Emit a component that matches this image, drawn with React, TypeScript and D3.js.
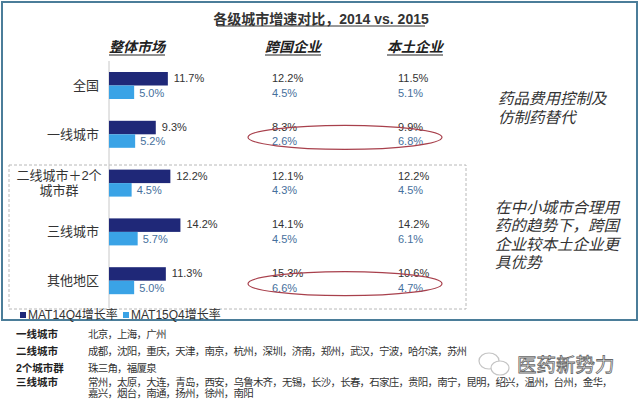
import React from 'react';
import * as d3 from 'd3';

// chart data
const categories = ['全国', '一线城市', '二线城市＋2个城市群', '三线城市', '其他地区'];
const categoryLines = [['全国'], ['一线城市'], ['二线城市＋2个', '城市群'], ['三线城市'], ['其他地区']];
const overall14 = [11.7, 9.3, 12.2, 14.2, 11.3];
const overall15 = [5.0, 5.2, 4.5, 5.7, 5.0];
const mnc14 = [12.2, 8.3, 12.1, 14.1, 15.3];
const mnc15 = [4.5, 2.6, 4.3, 4.5, 6.6];
const local14 = [11.5, 9.9, 12.2, 14.2, 10.6];
const local15 = [5.1, 6.8, 4.5, 6.1, 4.7];
const columnTitles = ['整体市场', '跨国企业', '本土企业'];
const legendLabels = ['MAT14Q4增长率', 'MAT15Q4增长率'];
const noteTop = ['药品费用控制及', '仿制药替代'];
const noteBottom = ['在中小城市合理用', '药的趋势下，跨国', '企业较本土企业更', '具优势'];
const cityGroups = ['一线城市', '二线城市', '2个城市群', '三线城市'];
const cityLists = [
  ['北京，上海，广州'],
  ['成都，沈阳，重庆，天津，南京，杭州，深圳，济南，郑州，武汉，宁波，哈尔滨，苏州'],
  ['珠三角，福厦泉'],
  ['常州，太原，大连，青岛，西安，乌鲁木齐，无锡，长沙，长春，石家庄，贵阳，南宁，昆明，绍兴，温州，台州，金华，',
   '嘉兴，烟台，南通，扬州，徐州，南阳'],
];

const W = 640;
const H = 399;
const FONT = '"Liberation Sans", Arial, "Noto Sans CJK SC", sans-serif';
const DARK = '#1f2878';
const LIGHT = '#3aa3e6';
const LIGHT_TEXT = '#466f9c';

const x = d3.scaleLinear().domain([0, 20]).range([109, 209.6]);
const y = d3.scaleBand<string>().domain(categories).range([72, 316]);
const barH = 13.5;

const headerX = [137, 293, 415];
const valueColX = [272, 398];

export default function App() {
  const listY = [334, 351, 368, 382, 393];
  let li = 0;
  return (
    <div style={{ position: 'fixed', left: 0, top: 0 }}>
      <svg width={W} height={H} style={{ display: 'block', background: '#fff' }} fontFamily={FONT}>
        {/* frame */}
        <rect x={2} y={2} width={635} height={318} fill="#fff" stroke="#4b7d99" strokeWidth={2} />

        {/* title */}
        <text x={321} y={19} textAnchor="middle" dominantBaseline="central" fontSize={14} fontWeight="bold" fill="#333">
          各级城市增速对比，2014 vs. 2015
        </text>
        <line x1={217} x2={425} y1={26} y2={26} stroke="#333" strokeWidth={1} />

        {/* column headers */}
        {columnTitles.map((t, i) => (
          <g key={t}>
            <text x={headerX[i]} y={47} textAnchor="middle" dominantBaseline="central" fontSize={14}
              fontWeight="bold" fontStyle="italic" fill="#222">{t}</text>
            <line x1={headerX[i] - 28} x2={headerX[i] + 28} y1={55} y2={55} stroke="#222" strokeWidth={1} />
          </g>
        ))}

        {/* dashed group box */}
        <rect x={9} y={165} width={457} height={144} fill="none" stroke="#b8b8b8" strokeWidth={1} strokeDasharray="3,2" />

        {/* axis line */}
        <line x1={x(0)} x2={x(0)} y1={61} y2={308} stroke="#c8c8c8" strokeWidth={1} />

        {categories.map((c, i) => {
          const y0 = y(c) as number;
          const lines = categoryLines[i];
          return (
            <g key={c}>
              {lines.length === 1 ? (
                <text x={99} y={y0 + barH} textAnchor="end" dominantBaseline="central" fontSize={13} fill="#333">{lines[0]}</text>
              ) : (
                lines.map((l, k) => (
                  <text key={l} x={59} y={y0 + 6 + k * 15} textAnchor="middle" dominantBaseline="central" fontSize={13} fill="#333">{l}</text>
                ))
              )}
              <rect x={x(0)} y={y0} width={x(overall14[i]) - x(0)} height={barH} fill={DARK} />
              <rect x={x(0)} y={y0 + barH} width={x(overall15[i]) - x(0)} height={barH} fill={LIGHT} />
              <text x={x(overall14[i]) + 6} y={y0 + 6} dominantBaseline="central" fontSize={11} fill="#333">{overall14[i].toFixed(1)}%</text>
              <text x={x(overall15[i]) + 5} y={y0 + barH + 7} dominantBaseline="central" fontSize={11} fill={LIGHT_TEXT}>{overall15[i].toFixed(1)}%</text>
              <text x={valueColX[0]} y={y0 + 6} dominantBaseline="central" fontSize={11} fill="#333">{mnc14[i].toFixed(1)}%</text>
              <text x={valueColX[0]} y={y0 + barH + 7} dominantBaseline="central" fontSize={11} fill={LIGHT_TEXT}>{mnc15[i].toFixed(1)}%</text>
              <text x={valueColX[1]} y={y0 + 6} dominantBaseline="central" fontSize={11} fill="#333">{local14[i].toFixed(1)}%</text>
              <text x={valueColX[1]} y={y0 + barH + 7} dominantBaseline="central" fontSize={11} fill={LIGHT_TEXT}>{local15[i].toFixed(1)}%</text>
            </g>
          );
        })}

        {/* highlight ellipses */}
        {[categories[1], categories[4]].map(c => (
          <ellipse key={c} cx={345} cy={(y(c) as number) + barH + 3} rx={97} ry={12} fill="none" stroke="#a8404c" strokeWidth={1.2} />
        ))}

        {/* notes */}
        {noteTop.map((t, i) => (
          <text key={t} x={498} y={98 + i * 19} dominantBaseline="central" fontSize={15.5} fontStyle="italic" fill="#333">{t}</text>
        ))}
        {noteBottom.map((t, i) => (
          <text key={t} x={495} y={207 + i * 18.5} dominantBaseline="central" fontSize={15.5} fontStyle="italic" fill="#333">{t}</text>
        ))}

        {/* legend */}
        {legendLabels.map((t, i) => (
          <g key={t} transform={`translate(${20 + i * 103},315)`}>
            <rect x={0} y={-3} width={6} height={6} fill={i === 0 ? DARK : LIGHT} />
            <text x={8} y={0} dominantBaseline="central" fontSize={12} fill="#333">{t}</text>
          </g>
        ))}

        {/* city lists */}
        {cityGroups.map((g, i) => {
          const rows = cityLists[i];
          const start = li;
          li += rows.length;
          return (
            <g key={g}>
              <text x={16} y={listY[start]} dominantBaseline="central" fontSize={10.5} fontWeight="bold" fill="#222">{g}</text>
              {rows.map((r, k) => (
                <text key={k} x={88} y={listY[start + k]} dominantBaseline="central" fontSize={10.5}
                  letterSpacing={-0.8} fill="#333">{r}</text>
              ))}
            </g>
          );
        })}

        {/* watermark */}
        <g fill="none" stroke="#c4c4c4" strokeWidth={1.2}>
          <ellipse cx={489} cy={361} rx={10} ry={8} />
          <ellipse cx={500} cy={368} rx={9} ry={7} fill="#fff" />
        </g>
        <text x={517} y={365} dominantBaseline="central" fontSize={19.5} fill="#fff" stroke="#666" strokeWidth={0.8}>医药新势力</text>
      </svg>
    </div>
  );
}
